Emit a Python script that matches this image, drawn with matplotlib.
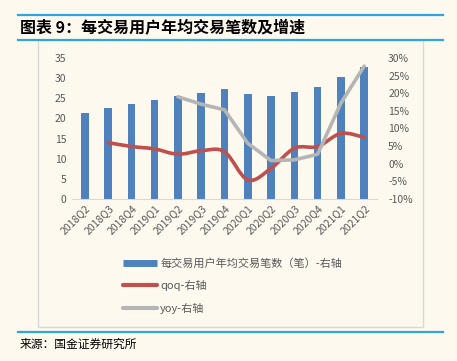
import numpy as np
import matplotlib
matplotlib.use("Agg")
import matplotlib.pyplot as plt
from matplotlib.lines import Line2D
from matplotlib.path import Path
from matplotlib.patches import PathPatch, Rectangle
from matplotlib.ticker import FuncFormatter

plt.rcParams['font.family'] = ['Noto Sans CJK SC', 'DejaVu Sans']

quarters = ['2018Q2', '2018Q3', '2018Q4', '2019Q1', '2019Q2', '2019Q3', '2019Q4',
            '2020Q1', '2020Q2', '2020Q3', '2020Q4', '2021Q1', '2021Q2']
trades = [21.3, 22.5, 23.7, 24.6, 25.6, 26.4, 27.3, 26.1, 25.5, 26.6, 27.9, 30.2, 32.7]
qoq = [None, 6.0, 4.9, 4.2, 2.7, 3.7, 3.4, -4.6, -1.3, 4.4, 4.9, 8.6, 7.5]
yoy = [None, None, None, None, 19.0, 16.9, 15.3, 5.8, 0.9, 1.1, 2.7, 17.2, 27.7]

bar_label = '每交易用户年均交易笔数（笔）-右轴'
qoq_label = 'qoq-右轴'
yoy_label = 'yoy-右轴'
title = '图表 9：每交易用户年均交易笔数及增速'
source = '来源：国金证券研究所'

BG = '#FDF9EF'
BLUE = '#4F81BD'
RED = '#C0504D'
GRAY = '#B5B5B5'
LINE_BLUE = '#2EA7E0'
TXT = '#595959'


def smooth_path(xs, ys):
    # catmull-rom style bezier through the points, like Excel's smoothed line
    verts = [(xs[0], ys[0])]
    codes = [Path.MOVETO]
    n = len(xs)
    for i in range(n - 1):
        x0, y0 = (xs[i - 1], ys[i - 1]) if i > 0 else (xs[i], ys[i])
        x1, y1 = xs[i], ys[i]
        x2, y2 = xs[i + 1], ys[i + 1]
        x3, y3 = (xs[i + 2], ys[i + 2]) if i + 2 < n else (x2, y2)
        c1 = (x1 + (x2 - x0) / 6, y1 + (y2 - y0) / 6)
        c2 = (x2 - (x3 - x1) / 6, y2 - (y3 - y1) / 6)
        verts += [c1, c2, (x2, y2)]
        codes += [Path.CURVE4] * 3
    return Path(verts, codes)


fig = plt.figure(figsize=(4.57, 3.61), dpi=100, facecolor=BG)

# header / footer rules and chart frame
W, H = 457, 361
for y in (15, 40, 332):
    fig.add_artist(Line2D([18 / W, 443 / W], [1 - y / H, 1 - y / H], color=LINE_BLUE, lw=1.6))
fig.add_artist(Rectangle((38 / W, 1 - 327 / H), 385 / W, 287 / H, fill=False,
                         edgecolor='#D9D9D9', lw=1.0, zorder=0))
fig.text(20 / W, 1 - 28 / H, title, fontsize=11.5, fontweight='bold', va='center', color='black')
fig.text(20 / W, 1 - 344 / H, source, fontsize=8.5, va='center', color='black')

ax = fig.add_axes([72 / W, 1 - 199 / H, 305 / W, 141 / H])
ax.set_facecolor(BG)
x = np.arange(len(quarters))
ax.bar(x, trades, width=0.32, color=BLUE, zorder=2)
ax.set_xlim(-0.55, len(quarters) - 0.45)
ax.set_ylim(0, 35)
ax.set_yticks(np.arange(0, 36, 5))
ax.set_xticks(x)
ax.set_xticklabels(quarters, rotation=45, ha='right', rotation_mode='anchor')
for s in ('top', 'left', 'right'):
    ax.spines[s].set_visible(False)
ax.spines['bottom'].set_color('#D9D9D9')
ax.tick_params(length=0, labelsize=7.5, colors=TXT, pad=4)
ax.tick_params(axis='x', pad=3)

ax2 = ax.twinx()
ax2.set_ylim(-10, 30)
ax2.set_yticks(np.arange(-10, 31, 5))
ax2.yaxis.set_major_formatter(FuncFormatter(lambda v, p: f'{v:.0f}%'))
for s in ax2.spines.values():
    s.set_visible(False)
ax2.tick_params(length=0, labelsize=7.5, colors=TXT, pad=8)

qx = [i for i, v in enumerate(qoq) if v is not None]
qy = [v for v in qoq if v is not None]
ax2.add_patch(PathPatch(smooth_path(qx, qy), fill=False, edgecolor=RED, lw=2.6,
                        capstyle='round', joinstyle='round', zorder=3))
yx = [i for i, v in enumerate(yoy) if v is not None]
yy = [v for v in yoy if v is not None]
ax2.plot(yx, yy, color=GRAY, lw=2.6, solid_capstyle='round', solid_joinstyle='round', zorder=4)

handles = [Line2D([], [], color=BLUE, lw=5, solid_capstyle='butt'),
           Line2D([], [], color=RED, lw=3, solid_capstyle='round'),
           Line2D([], [], color=GRAY, lw=3, solid_capstyle='round')]
fig.legend(handles, [bar_label, qoq_label, yoy_label], loc='upper left',
           bbox_to_anchor=(119 / W, 1 - 254 / H), frameon=False, fontsize=8,
           labelcolor=TXT, handlelength=3.0, handletextpad=0.3, labelspacing=1.0,
           borderaxespad=0)

fig.savefig('out.png', dpi=100, facecolor=BG)
